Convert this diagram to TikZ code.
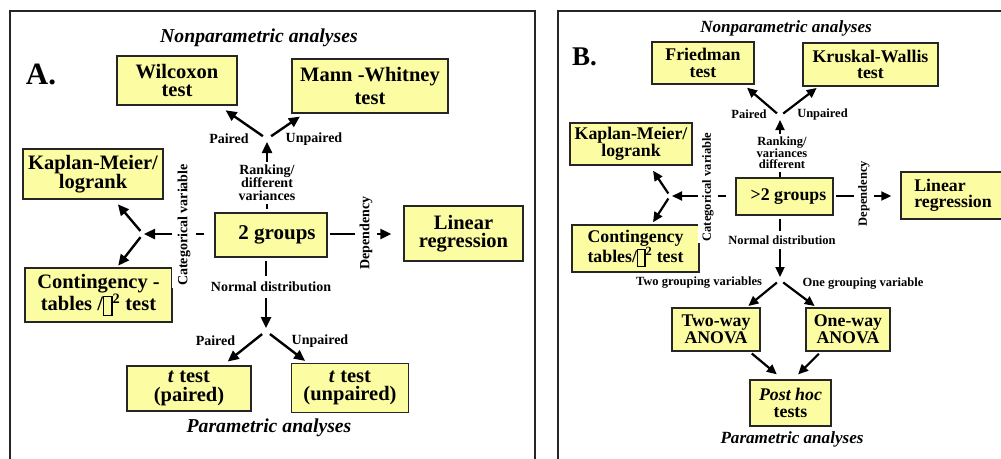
\documentclass[tikz,border=0pt]{standalone}
\usepackage{fontspec}
\setmainfont{Liberation Serif}
\usepackage{tikz}
\usetikzlibrary{arrows.meta,positioning,calc}
\definecolor{boxfill}{RGB}{252,252,163}
\newcommand{\glyphbox}{{\setlength{\fboxsep}{0pt}\setlength{\fboxrule}{1.2pt}\raisebox{-0.2em}{\fbox{\rule{0pt}{0.85em}\hspace{0.35em}}}}}

\begin{document}
\begin{tikzpicture}[x=1pt, y=-1pt,
    box/.style={draw=black!85, line width=1.5pt, fill=boxfill, align=center, inner sep=0pt},
    boxA/.style={box, font=\fontsize{20.5}{18.5}\selectfont\bfseries},
    boxB/.style={box, font=\fontsize{17.8}{16.5}\selectfont\bfseries},
    lblA/.style={font=\fontsize{14}{13.2}\selectfont\bfseries, align=center},
    lblB/.style={font=\fontsize{12.5}{11.6}\selectfont\bfseries, align=center},
    ttlA/.style={font=\fontsize{19.7}{22}\selectfont\bfseries\itshape},
    ttlB/.style={font=\fontsize{17.1}{20}\selectfont\bfseries\itshape},
    cut/.style={fill=white, inner xsep=2pt, inner ysep=3pt},
    arrowA/.style={-{Triangle[length=11pt,width=10pt]}, line width=2.4pt},
    arrowB/.style={-{Triangle[length=10pt,width=9pt]}, line width=2.2pt},
    frame/.style={draw=black!85, line width=2pt},
]
    \useasboundingbox (0,0) rectangle (1001,458);
    \clip (0,0) rectangle (1001,458);

    % Panel frames
    \draw[frame] (10,470) -- (10,11) -- (535,11) -- (535,470);
    \draw[frame] (558,470) -- (558,11) -- (1010,11);

    % Panel A: boxes
    \node[boxA, minimum width=120pt, minimum height=49pt] (wilA) at (177,80.5) {Wilcoxon\\test};
    \node[boxA, minimum width=156pt, minimum height=54pt] (mwA) at (370,86) {Mann -Whitney\\[4pt]test};
    \node[boxA, minimum width=140pt, minimum height=50pt] (kmA) at (93,174) {Kaplan-Meier/\\logrank};
    \node[boxA, minimum width=112pt, minimum height=44pt, font=\fontsize{21}{21}\selectfont\bfseries] (grpA) at (271,235) {\hspace*{12pt}2 groups};
    \node[boxA, minimum width=119pt, minimum height=55pt] (linA) at (463.5,233.5) {Linear\\regression};
    \node[boxA, minimum width=147pt, minimum height=54pt] (ctA) at (98.5,295) {Contingency -\\tables /\glyphbox\textsuperscript{2} test};
    \node[boxA, minimum width=124pt, minimum height=45pt] (tpA) at (189,388.5) {\textit{t} test\\(paired)};
    \node[boxA, minimum width=117pt, minimum height=49pt] (tuA) at (350,388) {\textit{t} test\\(unpaired)};

    % Panel A: connectors
    \coordinate (jtA) at (267,139);
    \coordinate (jbA) at (266,331);
    \coordinate (jlA) at (143,234);
    \draw[arrowA, shorten <=3pt, shorten >=3pt] (jtA |- grpA.north) -- (jtA);
    \draw[arrowA, shorten <=5pt, shorten >=8pt] (jtA) -- ($(wilA.south)+(42,0)$);
    \draw[arrowA, shorten <=5pt, shorten >=5pt] (jtA) -- ($(mwA.south)+(-66,0)$);
    \draw[arrowA, shorten <=3pt, shorten >=3pt] (jbA |- grpA.south) -- (jbA);
    \draw[arrowA, shorten <=5pt, shorten >=6pt] (jbA) -- ($(tpA.north)+(34,0)$);
    \draw[arrowA, shorten <=5pt, shorten >=3pt] (jbA) -- ($(tuA.north)+(-42.5,0)$);
    \draw[arrowA, shorten <=10pt, shorten >=1pt] (grpA.west |- jlA) -- (jlA);
    \draw[arrowA, shorten <=4pt, shorten >=6pt] (jlA) -- ($(kmA.south)+(21,0)$);
    \draw[arrowA, shorten <=4pt, shorten >=2pt] (jlA) -- ($(ctA.north)+(18.5,0)$);
    \draw[arrowA, shorten <=2pt, shorten >=12pt] (grpA.east |- jlA) -- (linA.west |- jlA);

    % Panel A: labels
    \node[font=\fontsize{31}{31}\selectfont\bfseries] (labA) at (41,74) {A.};
    \node[ttlA] (npA) at (259,38) {Nonparametric analyses};
    \node[ttlA] (parA) at (269,428) {Parametric analyses};
    \node[lblA, cut] (rnkA) at (267,183) {Ranking/\\different\\variances};
    \node[lblA, cut, inner ysep=6pt] (ndA) at (271,287) {Normal distribution};
    \node[lblA, cut, rotate=90, inner ysep=6pt] (catA) at (184,225) {Categorical variable};
    \node[lblA, cut, rotate=90, inner ysep=5pt] (depA) at (366,233) {Dependency};
    \node[lblA] (pdA) at (229,139) {Paired};
    \node[lblA] (updA) at (314,139) {Unpaired};
    \node[lblA] (pdtA) at (215.5,341) {Paired};
    \node[lblA] (updtA) at (320,341) {Unpaired};

    % Panel B: boxes
    \node[boxB, minimum width=102pt, minimum height=42pt] (friB) at (703,63) {Friedman\\test};
    \node[boxB, minimum width=135pt, minimum height=43pt] (kwB) at (870.5,64.5) {Kruskal-Wallis\\test};
    \node[boxB, minimum width=122pt, minimum height=42pt] (kmB) at (631,144) {Kaplan-Meier/\\logrank};
    \node[boxB, minimum width=97pt, minimum height=37pt] (grpB) at (784.5,196.5) {\hspace*{8pt}>2 groups};
    \node[boxB, minimum width=104pt, minimum height=47pt, align=left] (linB) at (953,195.5) {Linear\\regression};
    \node[boxB, minimum width=127pt, minimum height=47pt] (ctB) at (635.5,248.5) {Contingency\\tables/\glyphbox\textsuperscript{2} test};
    \node[boxB, minimum width=88pt, minimum height=43pt, font=\fontsize{17.8}{15.5}\selectfont\bfseries] (twB) at (716,329.5) {Two-way\\ANOVA};
    \node[boxB, minimum width=84pt, minimum height=43pt, font=\fontsize{17.8}{15.5}\selectfont\bfseries] (owB) at (848,329.5) {One-way\\ANOVA};
    \node[boxB, minimum width=81pt, minimum height=46pt, font=\fontsize{17.8}{16.5}\selectfont\bfseries] (phB) at (790.5,403) {\textit{Post hoc}\\tests};

    % Panel B: connectors
    \coordinate (jtB) at (780,116);
    \coordinate (jbB) at (780,280);
    \coordinate (jlB) at (670,196);
    \draw[arrowB, shorten >=4pt] (jtB |- grpB.north) -- (jtB);
    \draw[arrowB, shorten <=4pt, shorten >=4.5pt] (jtB) -- ($(friB.south)+(40.6,0)$);
    \draw[arrowB, shorten <=4pt, shorten >=2pt] (jtB) -- ($(kwB.south)+(-52.2,0)$);
    \draw[arrowB, shorten <=3pt, shorten >=3pt] (jbB |- grpB.south) -- (jbB);
    \draw[arrowB, shorten <=4pt, shorten >=2pt] (jbB) -- ($(twB.north)+(30.8,0)$);
    \draw[arrowB, shorten <=4pt, shorten >=2pt] (jbB) -- ($(owB.north)+(-31.7,0)$);
    \draw[arrowB, shorten <=9pt, shorten >=2pt] (grpB.west |- jlB) -- (jlB);
    \draw[arrowB, shorten <=3pt, shorten >=6pt] (jlB) -- ($(kmB.south)+(18.7,0)$);
    \draw[arrowB, shorten <=3pt, shorten >=2.4pt] (jlB) -- ($(ctB.north)+(16.2,0)$);
    \draw[arrowB, shorten <=2pt, shorten >=9pt] (grpB.east |- jlB) -- (linB.west |- jlB);
    \draw[arrowB, shorten <=2.7pt, shorten >=7.6pt] ($(twB.south)+(33.7,0)$) -- ($(phB.north)+(-7.8,0)$);
    \draw[arrowB, shorten <=2.8pt, shorten >=6.9pt] ($(owB.south)+(-27.1,0)$) -- ($(phB.north)+(2.7,0)$);

    % Panel B: labels
    \node[font=\fontsize{27}{27}\selectfont\bfseries] (labB) at (584.5,57) {B.};
    \node[ttlB] (npB) at (786,28) {Nonparametric analyses};
    \node[ttlB] (parB) at (792,439) {Parametric analyses};
    \node[lblB, cut] (rnkB) at (782,153) {Ranking/\\variances\\different};
    \node[lblB, cut, inner ysep=5pt] (ndB) at (782,240) {Normal distribution};
    \node[lblB, cut, rotate=90, inner ysep=4pt] (catB) at (708,187) {Categorical variable};
    \node[lblB, cut, rotate=90, inner ysep=4pt] (depB) at (864,193.5) {Dependency};
    \node[lblB] (pdB) at (749,114) {Paired};
    \node[lblB] (updB) at (822.5,114) {Unpaired};
    \node[lblB] (twvB) at (699,283) {Two grouping variables};
    \node[lblB] (owvB) at (863,284) {One grouping variable};
\end{tikzpicture}
\end{document}
